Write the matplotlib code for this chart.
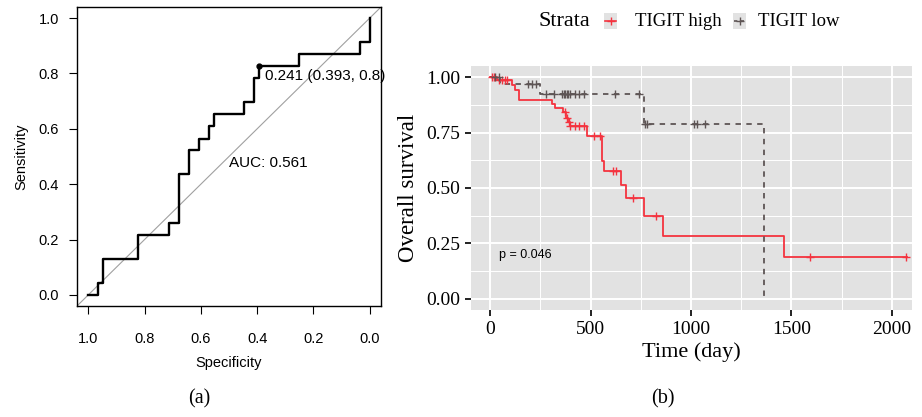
import numpy as np
import matplotlib
matplotlib.use("Agg")
import matplotlib.pyplot as plt
from matplotlib.lines import Line2D
from matplotlib.patches import Rectangle

# ---- (a) ROC curve points (specificity, sensitivity) ----
roc_spec = [1.0, 0.966, 0.966, 0.948, 0.948, 0.823, 0.823, 0.714, 0.714, 0.678, 0.678,
            0.642, 0.642, 0.608, 0.608, 0.572, 0.572, 0.555, 0.555, 0.447, 0.447,
            0.411, 0.411, 0.393, 0.393, 0.25, 0.25, 0.035, 0.035, 0.0, 0.0]
roc_sens = [0.0, 0.0, 0.043, 0.043, 0.130, 0.130, 0.217, 0.217, 0.261, 0.261, 0.435,
            0.435, 0.522, 0.522, 0.565, 0.565, 0.609, 0.609, 0.652, 0.652, 0.696,
            0.696, 0.783, 0.783, 0.826, 0.826, 0.870, 0.870, 0.913, 0.913, 1.0]
best_point = (0.393, 0.826)
best_label = "0.241 (0.393, 0.8)"
auc_label = "AUC: 0.561"
roc_ticks = [1.0, 0.8, 0.6, 0.4, 0.2, 0.0]

# ---- (b) Kaplan-Meier curves ----
high_time = [0, 35, 110, 125, 145, 307, 324, 365, 378, 388, 398, 481, 559, 568,
             652, 677, 764, 860, 1461, 2075]
high_surv = [1.0, 0.988, 0.966, 0.944, 0.898, 0.878, 0.859, 0.841, 0.814, 0.796,
             0.78, 0.736, 0.623, 0.578, 0.514, 0.455, 0.374, 0.282, 0.191, 0.191]
high_cens = [10, 20, 45, 60, 75, 85, 372, 385, 392, 400, 423, 445, 465, 515, 545,
             614, 627, 711, 825, 1590, 2072]

low_time = [0, 50, 249, 767, 1361]
low_surv = [1.0, 0.968, 0.923, 0.788, 0.0]
low_cens = [25, 42, 190, 210, 230, 280, 320, 360, 368, 375, 382, 390, 398, 423,
            445, 465, 622, 739, 770, 780, 1013, 1030, 1071]

strata = ["TIGIT high", "TIGIT low"]
p_label = "p = 0.046"
km_xticks = [0, 500, 1000, 1500, 2000]
km_yticks = [0.0, 0.25, 0.5, 0.75, 1.0]

RED = "#F4333F"
GREY = "#5E5555"
PANEL = "#E2E2E2"
SANS = "Liberation Sans"
SERIF = "Liberation Serif"

W, H = 922, 417
fig = plt.figure(figsize=(W / 100, H / 100), dpi=100)


def fx(px):
    return px / W


def fy(py):
    return 1 - py / H


# ---------- ROC panel ----------
ax1 = fig.add_axes([fx(77), fy(306), fx(381) - fx(77), fy(7) - fy(306)])
ax1.set_xlim(1.04, -0.04)
ax1.set_ylim(-0.04, 1.04)
ax1.plot([1.1, -0.1], [-0.1, 1.1], color="#A0A0A0", lw=0.8, zorder=1)
ax1.plot(roc_spec, roc_sens, color="black", lw=1.7, zorder=2)
ax1.plot(*best_point, "o", color="black", ms=3.5, zorder=3)
ax1.text(best_point[0] - 0.021, best_point[1] - 0.036, best_label,
         family=SANS, fontsize=11, va="center", ha="left")
ax1.text(0.36, 0.478, auc_label, family=SANS, fontsize=11, va="center", ha="center")
ax1.set_xticks(roc_ticks)
ax1.set_yticks(roc_ticks)
ax1.set_xticklabels([f"{t:.1f}" for t in roc_ticks], family=SANS, fontsize=10.5)
ax1.set_yticklabels([f"{t:.1f}" for t in roc_ticks], family=SANS, fontsize=10.5)
ax1.tick_params(direction="out", length=6, width=0.8, color="black")
ax1.tick_params(axis="x", pad=13)
ax1.tick_params(axis="y", pad=7)
for s in ax1.spines.values():
    s.set_linewidth(1.0)
ax1.set_xlabel("Specificity", family=SANS, fontsize=10.5, labelpad=7)
ax1.set_ylabel("Sensitivity", family=SANS, fontsize=10.5, labelpad=7)

# ---------- KM panel ----------
ax2 = fig.add_axes([fx(471), fy(310), fx(912) - fx(471), fy(66) - fy(310)])
ax2.set_facecolor(PANEL)
ax2.set_xlim(-95, 2100)
ax2.set_ylim(-0.05, 1.05)
ax2.set_xticks(km_xticks)
ax2.set_yticks(km_yticks)
ax2.set_xticks(np.arange(250, 2100, 500), minor=True)
ax2.set_yticks(np.arange(0.125, 1.0, 0.25), minor=True)
ax2.grid(which="major", color="white", lw=1.4)
ax2.grid(which="minor", color="white", lw=0.7)
ax2.set_axisbelow(True)
for s in ax2.spines.values():
    s.set_visible(False)
ax2.tick_params(which="major", direction="out", length=4, width=1.4, color="#222222", pad=4)
ax2.tick_params(which="minor", length=0)
ax2.set_xticklabels([str(t) for t in km_xticks], family=SERIF, fontsize=14)
ax2.set_yticklabels([f"{t:.2f}" for t in km_yticks], family=SERIF, fontsize=14)

ax2.step(high_time, high_surv, where="post", color=RED, lw=1.3)
ax2.step(low_time, low_surv, where="post", color=GREY, lw=1.3, ls=(0, (3, 3)))


def surv_at(times, survs, t):
    i = np.searchsorted(times, t, side="right") - 1
    return np.asarray(survs)[i]


ax2.plot(high_cens, surv_at(high_time, high_surv, high_cens), "+", color=RED, ms=5.5, mew=1.0)
ax2.plot(low_cens, surv_at(low_time, low_surv, low_cens), "+", color=GREY, ms=5.5, mew=1.0)
ax2.text(45, 0.198, p_label, family=SANS, fontsize=9, va="center", ha="left")
ax2.set_xlabel("Time (day)", family=SERIF, fontsize=16, labelpad=3)
ax2.set_ylabel("Overall survival", family=SERIF, fontsize=16.5, labelpad=5)

# legend drawn ggplot-style on top
fig.text(fx(538), fy(22), "Strata", family=SERIF, fontsize=16, va="center", ha="left")
for i, (lab, col, ls) in enumerate(zip(strata, [RED, GREY], ["-", (0, (2, 2))])):
    kx = [604, 733][i]
    fig.add_artist(Rectangle((fx(kx), fy(29)), fx(13), fy(13) - fy(29),
                             transform=fig.transFigure, facecolor=PANEL, edgecolor="none"))
    fig.add_artist(Line2D([fx(kx + 1), fx(kx + 6.5), fx(kx + 12)], [fy(21)] * 3,
                          transform=fig.transFigure, color=col, lw=1.2, ls=ls))
    fig.add_artist(Line2D([fx(kx + 6.5)], [fy(21)], transform=fig.transFigure,
                          color=col, marker="+", ms=6, mew=1.0, ls="none"))
    fig.text(fx([635, 758][i]), fy(22), lab, family=SERIF, fontsize=13.5, va="center", ha="left")

fig.text(fx(199), fy(399), "(a)", family=SERIF, fontsize=14.5, va="center", ha="center")
fig.text(fx(663), fy(399), "(b)", family=SERIF, fontsize=14.5, va="center", ha="center")

fig.savefig("out.png", dpi=100)
